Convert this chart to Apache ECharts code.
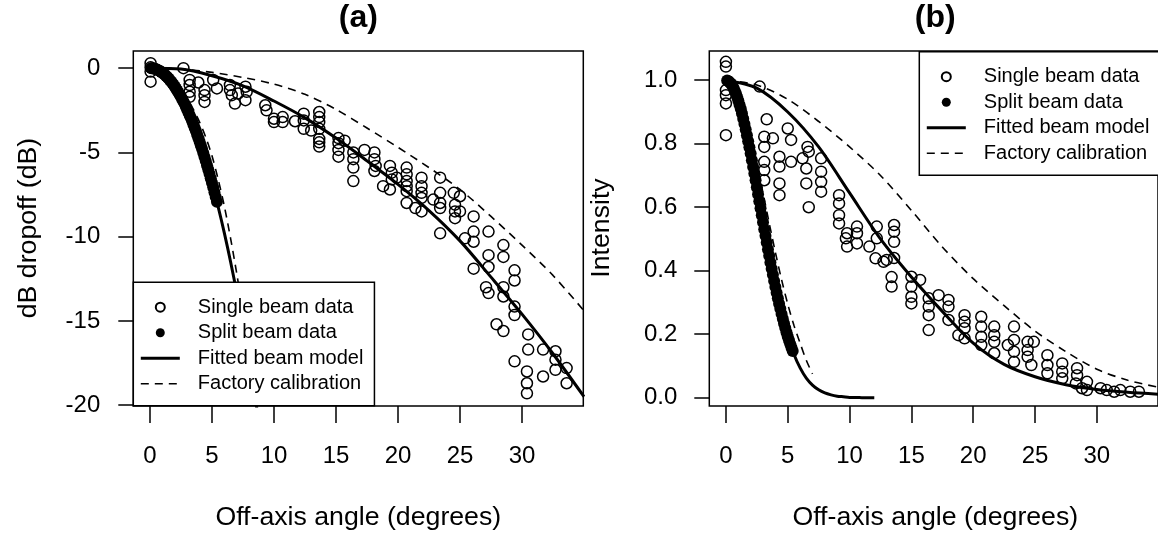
<!DOCTYPE html>
<html><head><meta charset="utf-8">
<script src="https://cdn.jsdelivr.net/npm/echarts@6/dist/echarts.min.js"></script>
<style>html,body{margin:0;padding:0;background:#fff}#c{width:1158px;height:533px}</style>
</head><body><div id="c"></div>
<script>
const FONT = "'Liberation Sans', Arial, sans-serif";
const legendNames = ['Single beam data', 'Split beam data', 'Fitted beam model', 'Factory calibration'];
const xTicks = [0, 5, 10, 15, 20, 25, 30];
const dbTicks = [-20, -15, -10, -5, 0];
const intensityTicks = [0, 0.2, 0.4, 0.6, 0.8, 1.0];

// single beam observations, panel (a): [angle, dB]
const singleBeamDb = [
 [0.05,0.3],[0.05,0.05],[0.05,-0.2],[0.05,-0.8],[2.7,0.0],
 [3.2,-0.7],[3.2,-1.0],[3.2,-1.4],[3.2,-1.7],[3.9,-0.85],
 [4.4,-1.3],[4.4,-1.6],[4.4,-2.0],[5.1,-0.7],[5.4,-1.2],
 [6.45,-1.0],[6.45,-1.3],[6.6,-1.6],[6.85,-2.1],[7.1,-1.5],
 [7.7,-1.1],[7.8,-1.4],[7.7,-1.9],[9.3,-2.2],[9.4,-2.5],
 [10.0,-3.0],[10.0,-3.2],[10.7,-2.9],[10.7,-3.2],[11.7,-3.15],
 [12.4,-2.7],[12.4,-3.1],[12.4,-3.6],[13.0,-3.7],
 [13.65,-2.6],[13.65,-2.9],[13.65,-3.2],[13.65,-3.6],[13.65,-4.2],[13.65,-4.4],[13.65,-4.65],
 [15.2,-4.15],[15.2,-4.45],[15.2,-4.85],[15.2,-5.25],[15.7,-4.3],
 [16.4,-5.0],[16.4,-5.4],[16.4,-5.9],[16.4,-6.7],[17.3,-4.85],
 [18.1,-5.0],[18.1,-5.4],[18.1,-6.1],[18.2,-5.8],
 [18.8,-7.0],[19.35,-7.2],[19.35,-5.8],[19.5,-6.2],[19.5,-6.6],[19.9,-6.5],
 [20.7,-5.9],[20.7,-6.3],[20.7,-6.7],[20.7,-7.0],[20.7,-7.3],[20.7,-8.0],
 [21.4,-8.3],[21.9,-6.5],[21.9,-7.0],[21.9,-7.4],[21.9,-7.7],[21.9,-8.5],
 [22.85,-7.8],[23.4,-6.5],[23.4,-7.4],[23.4,-8.0],[23.4,-8.3],[23.4,-9.8],
 [24.5,-7.4],[24.6,-8.1],[24.6,-8.5],[24.6,-8.9],[25.0,-7.6],[25.0,-8.5],[25.4,-10.1],
 [26.1,-8.8],[26.1,-9.7],[26.1,-10.3],[26.1,-11.9],
 [27.3,-9.7],[27.3,-11.1],[27.3,-11.8],[27.1,-13.0],[27.3,-13.35],
 [28.5,-10.5],[28.5,-11.2],[28.5,-13.0],[28.5,-13.55],
 [29.4,-12.0],[29.4,-12.6],[29.4,-14.15],[29.4,-14.65],
 [27.95,-15.2],[28.5,-15.6],[29.4,-17.4],
 [30.5,-15.8],[30.5,-16.7],[30.4,-18.0],[30.4,-18.7],[30.4,-19.3],
 [31.7,-16.7],[31.7,-18.3],[32.7,-16.8],[32.7,-17.3],[32.7,-17.9],
 [33.6,-17.8],[33.6,-18.7]
];

// single beam observations, panel (b): [angle, intensity]
const singleBeamIntensity = [
 [0,1.058],[0,1.043],[0,0.969],[0,0.953],[0,0.927],[0,0.827],
 [2.73,0.98],[3.3,0.877],[3.1,0.822],[3.1,0.79],[3.1,0.743],[3.1,0.717],[3.1,0.685],
 [3.8,0.817],[4.33,0.759],[4.33,0.728],[4.33,0.675],[4.33,0.638],
 [5.0,0.848],[5.27,0.812],[5.27,0.743],
 [6.2,0.754],[6.5,0.722],[6.5,0.675],[6.7,0.775],[6.7,0.60],[6.6,0.79],
 [7.7,0.754],[7.7,0.712],[7.7,0.68],[7.7,0.649],
 [9.15,0.638],[9.15,0.612],[9.15,0.575],[9.15,0.549],
 [9.7,0.502],[9.8,0.476],[9.8,0.518],
 [10.6,0.539],[10.6,0.518],[10.6,0.486],
 [11.6,0.476],[12.1,0.439],[12.2,0.539],[12.2,0.502],
 [12.75,0.428],[13.0,0.434],
 [13.6,0.544],[13.6,0.523],[13.6,0.491],[13.6,0.44],
 [13.4,0.38],[13.4,0.35],
 [15.0,0.381],[15.0,0.35],[15.0,0.318],[15.0,0.297],[15.7,0.371],
 [16.4,0.313],[16.4,0.287],[16.4,0.26],[16.4,0.213],[17.2,0.323],
 [18.0,0.308],[18.0,0.287],[18.0,0.245],
 [18.8,0.197],[19.3,0.187],[19.3,0.26],[19.3,0.239],[19.3,0.219],
 [20.65,0.255],[20.65,0.224],[20.65,0.192],[20.65,0.166],
 [21.7,0.224],[21.7,0.197],[21.7,0.176],[21.7,0.14],
 [22.8,0.166],[23.3,0.224],[23.3,0.182],[23.3,0.145],[23.3,0.113],
 [24.4,0.176],[24.4,0.15],[24.4,0.129],[24.9,0.176],[24.7,0.103],
 [26.0,0.134],[26.0,0.103],[26.0,0.077],
 [27.2,0.108],[27.2,0.082],[27.2,0.061],
 [28.4,0.093],[28.4,0.071],[28.3,0.045],[29.2,0.05],[29.2,0.024],[28.8,0.03],
 [30.3,0.03],[30.8,0.024],[31.4,0.019],[31.9,0.024],[32.7,0.019],[33.4,0.019]
];

// split beam observations
const splitAngle = [0.1,0.2,0.3,0.4,0.5,0.6,0.7,0.8,0.9,1.0,1.1,1.2,1.3,1.4,1.5,1.6,1.7,1.8,1.9,2.0,2.1,2.2,2.3,2.4,2.5,2.6,2.7,2.8,2.9,3.0,3.1,3.2,3.3,3.4,3.5,3.6,3.7,3.8,3.9,4.0,4.1,4.2,4.3,4.4,4.5,4.6,4.7,4.8,4.9,5.0,5.1,5.2,5.3,5.4];
const splitDb = [0.00,-0.01,-0.02,-0.04,-0.07,-0.10,-0.13,-0.17,-0.22,-0.27,-0.33,-0.39,-0.46,-0.53,-0.61,-0.70,-0.79,-0.88,-0.98,-1.09,-1.20,-1.32,-1.44,-1.57,-1.70,-1.84,-1.98,-2.13,-2.29,-2.45,-2.61,-2.79,-2.96,-3.14,-3.33,-3.53,-3.72,-3.93,-4.14,-4.35,-4.57,-4.80,-5.03,-5.27,-5.51,-5.76,-6.01,-6.27,-6.53,-6.80,-7.07,-7.36,-7.64,-7.93];
const splitIntensity = [0.999,0.997,0.994,0.990,0.984,0.977,0.968,0.959,0.948,0.936,0.923,0.910,0.895,0.879,0.862,0.845,0.827,0.808,0.789,0.769,0.748,0.727,0.706,0.685,0.663,0.641,0.619,0.597,0.575,0.553,0.531,0.510,0.489,0.467,0.447,0.426,0.406,0.387,0.368,0.349,0.331,0.313,0.296,0.280,0.264,0.249,0.234,0.220,0.206,0.193,0.181,0.169,0.158,0.147];

// single beam model curves
const beamAngle = [0,2.5,5,7.5,10,12.5,15,17.5,20,22.5,25,27.5,30,32.5,35];
const fittedDb = [0,-0.05,-0.45,-1.05,-1.95,-2.95,-4.15,-5.5,-6.9,-8.45,-10.25,-12.4,-14.6,-16.95,-19.5];
const factoryDb = [0,-0.05,-0.25,-0.55,-0.95,-1.55,-2.45,-3.55,-4.7,-5.9,-7.2,-8.8,-10.5,-12.3,-14.4];
const fittedIntensity = [1.0,0.975,0.90,0.79,0.645,0.50,0.38,0.272,0.172,0.105,0.066,0.041,0.026,0.017,0.011];
const factoryIntensity = [1.0,0.985,0.94,0.87,0.79,0.70,0.59,0.475,0.375,0.29,0.21,0.145,0.09,0.055,0.033];

// split beam model curves
const splitCurveAngle = [0,0.5,1,1.5,2,2.5,3,3.5,4,4.5,5,5.5,6,6.5,7,7.5,8,8.5,9,9.5,10,11,12];
const splitFittedDb = [0,-0.07,-0.27,-0.61,-1.09,-1.70,-2.45,-3.33,-4.35,-5.51,-6.80,-8.23,-9.79,-11.49,-13.33,-15.30,-17.41,-19.65,-22.03,-24.5,-27.2,-32.9,-39.2];
const splitFactoryDb = [0,-0.05,-0.2,-0.45,-0.8,-1.25,-1.8,-2.45,-3.2,-4.1,-5.2,-6.6,-8.2,-10.1,-12.2,-14.5,-17.0,-19.7,-22.5];
const splitFittedIntensity = [1,0.984,0.936,0.862,0.769,0.663,0.553,0.447,0.349,0.264,0.193,0.137,0.094,0.062,0.040,0.025,0.015,0.009,0.005,0.003,0.001,0.0003,0];
const splitFactoryIntensity = [1,0.988,0.952,0.896,0.823,0.737,0.645,0.55,0.458,0.372,0.295,0.228,0.172,0.118,0.075];

const zip = (xs, ys) => ys.map((y, i) => [xs[i], y]);

const openItem = { color: 'rgba(0,0,0,0)', borderColor: '#000', borderWidth: 1.5, opacity: 1 };
const fillItem = { color: '#000', opacity: 1 };
const solidLine = { color: '#000', width: 3 };
const dashLine = { color: '#000', width: 1.6, type: [8, 6] };

function panelSeries(i, singlePts, splitPts, fit, fac, sFit, sFac) {
  const base = { xAxisIndex: i, yAxisIndex: i, animation: false };
  return [
    Object.assign({ type: 'scatter', name: legendNames[0], data: singlePts, symbol: 'circle', symbolSize: 11, itemStyle: openItem, z: 1 }, base),
    Object.assign({ type: 'scatter', name: legendNames[1], data: splitPts, symbol: 'circle', symbolSize: 12, itemStyle: fillItem, z: 2 }, base),
    Object.assign({ type: 'line', name: legendNames[2], data: fit, symbol: 'none', smooth: 0.3, lineStyle: solidLine, itemStyle: {color:'#000'}, z: 3 }, base),
    Object.assign({ type: 'line', name: legendNames[2], data: sFit, symbol: 'none', smooth: 0.3, lineStyle: solidLine, itemStyle: {color:'#000'}, z: 3 }, base),
    Object.assign({ type: 'line', name: legendNames[3], data: fac, symbol: 'none', smooth: 0.3, lineStyle: dashLine, itemStyle: {color:'#000'}, z: 3 }, base),
    Object.assign({ type: 'line', name: legendNames[3], data: sFac, symbol: 'none', smooth: 0.3, lineStyle: dashLine, itemStyle: {color:'#000'}, z: 3 }, base)
  ];
}

function xAxis(gi) {
  return { type: 'value', gridIndex: gi, min: -1.344, max: 34.944,
    axisLine: { show: false, onZero: false }, splitLine: { show: false },
    axisTick: { show: true, length: 17, lineStyle: { color: '#000', width: 1.5 }, customValues: xTicks },
    axisLabel: { customValues: xTicks, margin: 38, fontSize: 24, fontFamily: FONT, color: '#000' } };
}
function yAxis(gi, min, max, ticks, fmt, margin) {
  return { type: 'value', gridIndex: gi, min: min, max: max,
    axisLine: { show: false, onZero: false }, splitLine: { show: false },
    axisTick: { show: true, length: 15, lineStyle: { color: '#000', width: 1.5 }, customValues: ticks },
    axisLabel: { customValues: ticks, margin: margin, fontSize: 24, fontFamily: FONT, color: '#000', formatter: fmt } };
}
const hiddenSymbol = { opacity: 0 };
function legend(pos) {
  return Object.assign({
    data: [
      { name: legendNames[0] },
      { name: legendNames[1] },
      { name: legendNames[2], itemStyle: hiddenSymbol, lineStyle: { width: 3, color: '#000' } },
      { name: legendNames[3], itemStyle: hiddenSymbol, lineStyle: { width: 1.6, color: '#000', type: [8, 6] } }
    ],
    orient: 'vertical', selectedMode: false, z: 10,
    itemWidth: 39, itemHeight: 9, itemGap: 5.5,
    padding: [15, 11, 12, 6], backgroundColor: '#fff', borderColor: '#000', borderWidth: 1.5, borderRadius: 0,
    textStyle: { fontSize: 20, fontFamily: FONT, color: '#000', lineHeight: 20, padding: [0, 0, 0, 13] } }, pos);
}

const chart = echarts.init(document.getElementById('c'), null, { renderer: 'canvas' });
chart.setOption({
  animation: false,
  backgroundColor: '#fff',
  grid: [
    { left: 133.3, top: 51, width: 450, height: 355, show: true, borderColor: '#000', borderWidth: 1.5, backgroundColor: 'rgba(0,0,0,0)' },
    { left: 709.3, top: 51, width: 452, height: 355, show: true, borderColor: '#000', borderWidth: 1.5, backgroundColor: 'rgba(0,0,0,0)' }
  ],
  xAxis: [xAxis(0), xAxis(1)],
  yAxis: [
    yAxis(0, -20.05, 1.02, dbTicks, v => String(v), 33),
    yAxis(1, -0.026, 1.092, intensityTicks, v => v.toFixed(1), 32)
  ],
  legend: [
    legend({ left: 133.3, bottom: 127.3 }),
    legend({ left: 919.3, top: 51.7 })
  ],
  graphic: [
    { type: 'text', x: 358.3, y: 18, style: { text: '(a)', font: 'bold 32px ' + FONT, textAlign: 'center', textVerticalAlign: 'middle', fill: '#000' } },
    { type: 'text', x: 935.3, y: 18, style: { text: '(b)', font: 'bold 32px ' + FONT, textAlign: 'center', textVerticalAlign: 'middle', fill: '#000' } },
    { type: 'text', x: 358.3, y: 518, style: { text: 'Off-axis angle (degrees)', font: '26.7px ' + FONT, textAlign: 'center', textVerticalAlign: 'middle', fill: '#000' } },
    { type: 'text', x: 935.3, y: 518, style: { text: 'Off-axis angle (degrees)', font: '26.7px ' + FONT, textAlign: 'center', textVerticalAlign: 'middle', fill: '#000' } },
    { type: 'text', x: 29, y: 228, rotation: Math.PI / 2, style: { text: 'dB dropoff (dB)', font: '26.7px ' + FONT, textAlign: 'center', textVerticalAlign: 'middle', fill: '#000' } },
    { type: 'text', x: 602, y: 228, rotation: Math.PI / 2, style: { text: 'Intensity', font: '26.7px ' + FONT, textAlign: 'center', textVerticalAlign: 'middle', fill: '#000' } }
  ],
  series: [].concat(
    panelSeries(0, singleBeamDb, zip(splitAngle, splitDb), zip(beamAngle, fittedDb), zip(beamAngle, factoryDb), zip(splitCurveAngle, splitFittedDb), zip(splitCurveAngle, splitFactoryDb)),
    panelSeries(1, singleBeamIntensity, zip(splitAngle, splitIntensity), zip(beamAngle, fittedIntensity), zip(beamAngle, factoryIntensity), zip(splitCurveAngle, splitFittedIntensity), zip(splitCurveAngle, splitFactoryIntensity))
  )
});
</script>
</body></html>
